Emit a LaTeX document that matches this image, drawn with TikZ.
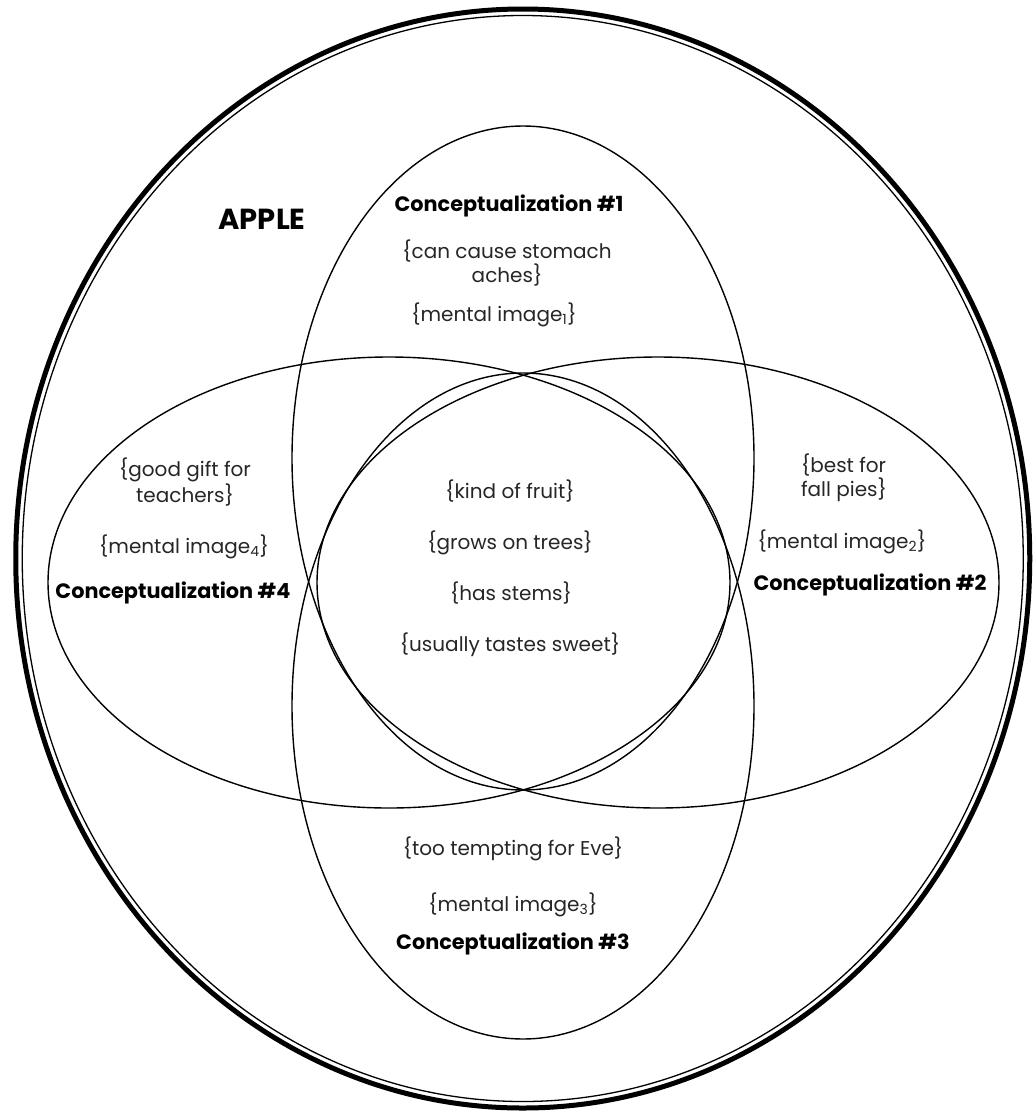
\documentclass[tikz,border=0pt]{standalone}
\usepackage{fontspec}
\setmainfont{Poppins}
\begin{document}
\begin{tikzpicture}[x=1pt,y=-1pt,
  ring/.style={line width=1.4pt},
  body/.style={font=\fontsize{20}{24}\selectfont, text=black!85, align=center, inner sep=0pt},
  ctitle/.style={font=\bfseries\fontsize{20.8}{24}\selectfont, inner sep=0pt}]
  % page frame
  \useasboundingbox (0,0) rectangle (1033,1114);
  \fill[white] (0,0) rectangle (1033,1114);

  % outer set: thick rim with a thin inner rule
  \draw[line width=5pt] (522.75,558.5) ellipse [x radius=507, y radius=549.5];
  \draw[line width=1.3pt] (522.75,558.5) ellipse [x radius=500.5, y radius=543];

  % the four conceptualizations
  \draw[ring] (523,458) ellipse [x radius=231, y radius=332];   % #1
  \draw[ring] (523,706) ellipse [x radius=231, y radius=333];   % #3
  \draw[ring] (389,582.5) ellipse [x radius=341, y radius=225.5]; % #4
  \draw[ring] (658,582.5) ellipse [x radius=341, y radius=225.5]; % #2

  % set name
  \node[font=\bfseries\fontsize{29}{32}\selectfont, inner sep=0pt] (apple) at (262,219.5) {APPLE};

  % conceptualization #1
  \node[ctitle] (c1) at (509,205.5) {Conceptualization \#1};
  \node[body] (c1a) at (507,263) {\{can cause stomach\\aches\}};
  \node[body] (c1b) at (494,315) {\{mental image\textsubscript{1}\}};

  % conceptualization #4
  \node[ctitle] (c4) at (173,592.5) {Conceptualization \#4};
  \node[body] (c4a) at (185,482) {\{good gift for\\teachers\}};
  \node[body] (c4b) at (184,547) {\{mental image\textsubscript{4}\}};

  % conceptualization #2
  \node[ctitle] (c2) at (870,585) {Conceptualization \#2};
  \node[body, align=left] (c2a) at (844,477.5) {\{best for\\fall pies\}};
  \node[body] (c2b) at (842,542) {\{mental image\textsubscript{2}\}};

  % conceptualization #3
  \node[ctitle] (c3) at (513,943.5) {Conceptualization \#3};
  \node[body] (c3a) at (513,849) {\{too tempting for Eve\}};
  \node[body] (c3b) at (513,905) {\{mental image\textsubscript{3}\}};

  % shared core
  \node[body] (k1) at (510,491) {\{kind of fruit\}};
  \node[body] (k2) at (510,543) {\{grows on trees\}};
  \node[body] (k3) at (511,593) {\{has stems\}};
  \node[body] (k4) at (510,644.5) {\{usually tastes sweet\}};
\end{tikzpicture}
\end{document}
